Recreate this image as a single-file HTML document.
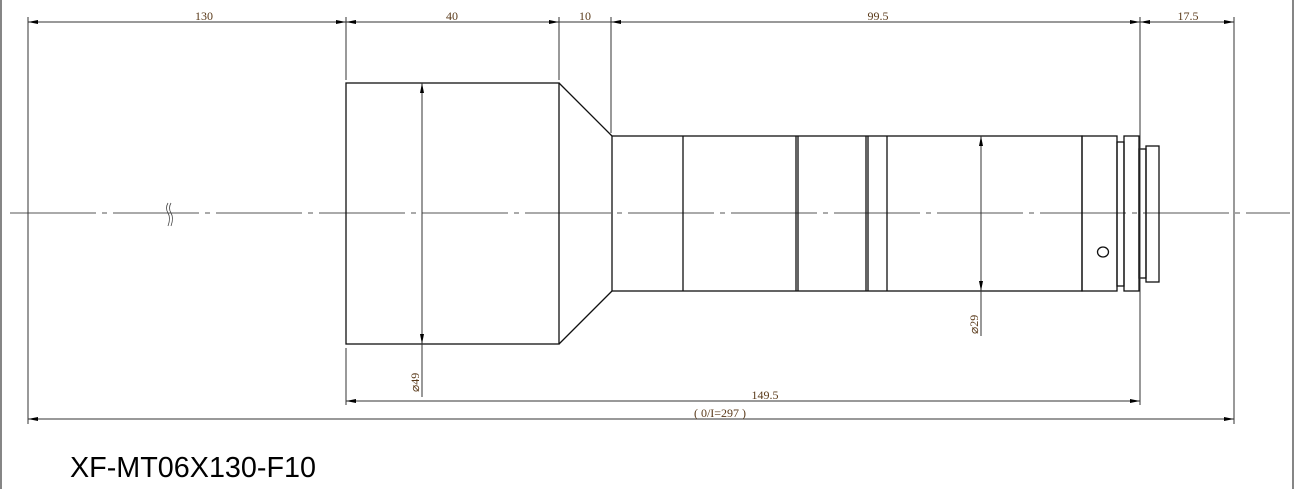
<!DOCTYPE html>
<html><head><meta charset="utf-8"><style>
html,body{margin:0;padding:0;background:#fff;}
svg{display:block;}
.d{font-family:"Liberation Serif",serif;font-size:12px;fill:#5a3a1a;}
</style></head><body>
<svg width="1295" height="489" viewBox="0 0 1295 489" xmlns="http://www.w3.org/2000/svg">
<defs>
<marker id="a" viewBox="0 0 10 4" refX="10" refY="2" markerWidth="10" markerHeight="4" orient="auto-start-reverse" markerUnits="userSpaceOnUse"><path d="M0,0 L10,2 L0,4 z" fill="#000"/></marker>
</defs>
<g stroke="#444" stroke-width="1.3" fill="none">
<line x1="1" y1="0" x2="1" y2="489"/>
<line x1="1293" y1="0" x2="1293" y2="489"/>
</g>
<line x1="10" y1="213" x2="1290" y2="213" stroke="#555" stroke-width="1" stroke-dasharray="86,6,5,6"/>
<path d="M168,203 q-3,5 0,10 q3,5 0,13 M171,203 q-3,5 0,10 q3,5 0,13" stroke="#444" fill="none" stroke-width="0.8"/>
<g stroke="#111" stroke-width="1.3" fill="none">
<rect x="346" y="83" width="213" height="261"/>
<path d="M559,83 L612,136 M559,344 L612,291"/>
<rect x="612" y="136" width="470" height="155"/>
<line x1="683" y1="136" x2="683" y2="291"/>
<line x1="796" y1="136" x2="796" y2="291"/>
<line x1="798" y1="136" x2="798" y2="291"/>
<line x1="866" y1="136" x2="866" y2="291"/>
<line x1="868" y1="136" x2="868" y2="291"/>
<line x1="887" y1="136" x2="887" y2="291"/>
<rect x="1082" y="136" width="35" height="155"/>
<rect x="1117" y="142" width="7" height="144"/>
<rect x="1124" y="136" width="15" height="155"/>
<rect x="1139" y="149" width="7" height="129"/>
<rect x="1146" y="146" width="13" height="136"/>
<ellipse cx="1103" cy="252" rx="5.5" ry="5"/>
</g>
<g stroke="#333" stroke-width="1">
<line x1="28" y1="17" x2="28" y2="424"/>
<line x1="346" y1="17" x2="346" y2="80"/>
<line x1="559" y1="17" x2="559" y2="80"/>
<line x1="611" y1="17" x2="611" y2="133"/>
<line x1="1140" y1="17" x2="1140" y2="405"/>
<line x1="1234" y1="17" x2="1234" y2="424"/>
<line x1="346" y1="348" x2="346" y2="405"/>
</g>
<g stroke="#333" stroke-width="1" marker-start="url(#a)" marker-end="url(#a)">
<line x1="28" y1="22" x2="346" y2="22"/>
<line x1="346" y1="22" x2="559" y2="22"/>
<line x1="1140" y1="22" x2="1234" y2="22"/>
<line x1="346" y1="401" x2="1140" y2="401"/>
<line x1="28" y1="419" x2="1234" y2="419"/>
<line x1="422" y1="83" x2="422" y2="344"/>
<line x1="981" y1="136" x2="981" y2="291"/>
</g>
<line x1="559" y1="22" x2="611" y2="22" stroke="#333"/>
<line x1="611" y1="22" x2="1140" y2="22" stroke="#333" marker-start="url(#a)" marker-end="url(#a)"/>
<line x1="422" y1="344" x2="422" y2="397" stroke="#333"/>
<line x1="981" y1="291" x2="981" y2="336" stroke="#333"/>
<g class="d">
<text x="204" y="20" text-anchor="middle">130</text>
<text x="452" y="20" text-anchor="middle">40</text>
<text x="585" y="20" text-anchor="middle">10</text>
<text x="878" y="20" text-anchor="middle">99.5</text>
<text x="1188" y="20" text-anchor="middle">17.5</text>
<text x="765" y="399" text-anchor="middle">149.5</text>
<text x="720" y="417" text-anchor="middle">( 0/I=297 )</text>
<text transform="translate(419,392) rotate(-90)">⌀49</text>
<text transform="translate(978,334) rotate(-90)">⌀29</text>
</g>
<text x="70" y="477" font-family="Liberation Sans, sans-serif" font-size="29" textLength="246" lengthAdjust="spacingAndGlyphs" fill="#000">XF-MT06X130-F10</text>
</svg>
</body></html>
